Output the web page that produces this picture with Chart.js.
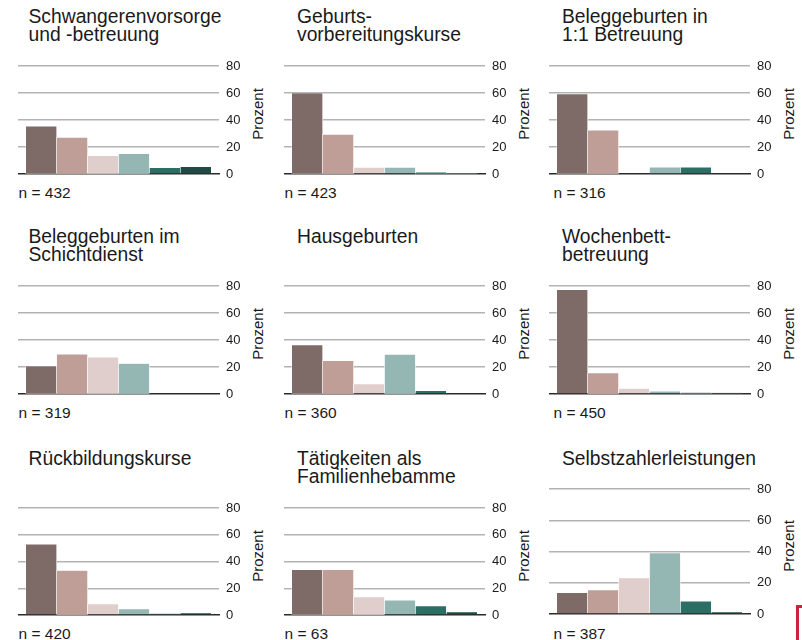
<!DOCTYPE html>
<html>
<head>
<meta charset="utf-8">
<script src="https://cdn.jsdelivr.net/npm/chart.js@4/dist/chart.umd.min.js"></script>
<style>
  body { margin: 0; background: #fff; }
  #wrap { position: relative; width: 802px; height: 640px; overflow: hidden; font-family: "Liberation Sans", Arial, sans-serif; color: #1a1a1a; }
  .title { position: absolute; font-size: 19.3px; line-height: 18px; white-space: nowrap; }
  .nlab { position: absolute; font-size: 15.5px; line-height: 15px; white-space: nowrap; }
  .ylab { position: absolute; font-size: 15px; white-space: nowrap; transform: translate(-50%, -50%) rotate(-90deg); }
  canvas { position: absolute; }
  #mark { position: absolute; left: 796px; top: 605px; width: 20px; height: 50px; border-left: 3px solid #d0203a; border-top: 3px solid #d0203a; }
</style>
</head>
<body>
<div id="wrap"><div id="mark"></div></div>
<script>
// panel titles (line breaks as in the original)
const titles = [
  ['Schwangerenvorsorge', 'und -betreuung'],
  ['Geburts-', 'vorbereitungskurse'],
  ['Beleggeburten in', '1:1 Betreuung'],
  ['Beleggeburten im', 'Schichtdienst'],
  ['Hausgeburten'],
  ['Wochenbett-', 'betreuung'],
  ['Rückbildungskurse'],
  ['Tätigkeiten als', 'Familienhebamme'],
  ['Selbstzahlerleistungen']
];
const nValues = [432, 423, 316, 319, 360, 450, 420, 63, 387];
const levels = [1, 2, 3, 4, 5, 6];

// Prozent per panel, one value per level
const schwangerenvorsorge = [35.4, 27.1, 13.6, 15.1, 4.7, 5.4];
const geburtsvorbereitung = [60.0, 29.3, 4.9, 4.9, 1.2, 0.5];
const belegEinsZuEins = [59.2, 32.4, 0, 5.0, 5.0, 0];
const belegSchicht = [20.7, 29.5, 27.3, 22.6, 0, 0];
const hausgeburten = [36.4, 24.6, 7.4, 29.3, 2.5, 0];
const wochenbett = [77.3, 15.5, 4.0, 2.0, 1.0, 0.7];
const rueckbildung = [53.0, 33.3, 8.2, 4.5, 1.0, 1.5];
const familienhebamme = [33.8, 33.8, 13.4, 11.0, 6.7, 2.2];
const selbstzahler = [13.6, 15.3, 23.0, 39.0, 8.1, 1.3];

const yTicks = [0, 20, 40, 60, 80];

const series = [schwangerenvorsorge, geburtsvorbereitung, belegEinsZuEins,
  belegSchicht, hausgeburten, wochenbett, rueckbildung, familienhebamme, selbstzahler];
const colors = ['#7e6b68', '#bf9e98', '#dfcecb', '#95b7b4', '#2c6e64', '#1f4b44'];

// layout
const colLeft = [18, 283.5, 549];
const titleLeft = [28.5, 297, 562];
const nLeft = [18.5, 284.5, 553.5];
const titleTop = [7.7, 228, 450.4];
const top80 = [65.7, 285.7, 507.7];
const bottom0 = [173.3, 394, 615];
const plotW = 201;
const axisW = 40;
const pad = 10;

const wrap = document.getElementById('wrap');

series.forEach((vals, i) => {
  const c = i % 3, r = Math.floor(i / 3);
  const yTop = i === 8 ? 489.3 : top80[r];
  const yBot = i === 8 ? 614.7 : bottom0[r];
  const plotH = Math.round(yBot - yTop);

  const t = document.createElement('div');
  t.className = 'title';
  t.style.left = titleLeft[c] + 'px';
  t.style.top = titleTop[r] + 'px';
  t.innerHTML = titles[i].join('<br>');
  wrap.appendChild(t);

  const n = document.createElement('div');
  n.className = 'nlab';
  n.style.left = nLeft[c] + 'px';
  n.style.top = (yBot + 11.3) + 'px';
  n.textContent = 'n = ' + nValues[i];
  wrap.appendChild(n);

  const yl = document.createElement('div');
  yl.className = 'ylab';
  yl.style.left = (colLeft[c] + 239) + 'px';
  yl.style.top = (yBot - 0.55 * (yBot - yTop)) + 'px';
  yl.textContent = 'Prozent';
  wrap.appendChild(yl);

  const cv = document.createElement('canvas');
  cv.width = plotW + axisW;
  cv.height = plotH + 2 * pad;
  cv.style.left = colLeft[c] + 'px';
  cv.style.top = (yTop - pad) + 'px';
  wrap.appendChild(cv);

  new Chart(cv, {
    type: 'bar',
    data: {
      datasets: [{
        data: levels.map((x, k) => ({ x: x, y: vals[k] })),
        backgroundColor: colors,
        borderColor: '#ffffff',
        borderWidth: 0.6,
        borderSkipped: 'start',
        barPercentage: 1,
        categoryPercentage: 1
      }]
    },
    options: {
      responsive: false,
      animation: false,
      layout: { autoPadding: false, padding: { top: pad, bottom: pad, left: 0, right: 0 } },
      plugins: { legend: { display: false }, tooltip: { enabled: false } },
      scales: {
        x: {
          type: 'linear',
          offset: false,
          min: 0.25,
          max: 6.75,
          z: 1,
          ticks: { display: false },
          grid: { display: false, drawTicks: false, offset: false },
          border: { display: true, color: '#2a2a2a', width: 1.6 }
        },
        y: {
          position: 'right',
          min: 0,
          max: 80,
          afterBuildTicks: (s) => { s.ticks = yTicks.map(v => ({ value: v })); },
          afterFit: (s) => { s.width = axisW; },
          ticks: {
            padding: 0,
            color: '#1a1a1a',
            font: { family: 'Liberation Sans', size: 13 }
          },
          grid: {
            drawTicks: true,
            tickLength: 7,
            tickColor: 'rgba(0,0,0,0)',
            lineWidth: 1.4,
            color: (ctx) => ctx.tick && ctx.tick.value === 0 ? 'rgba(0,0,0,0)' : '#b3b3b3'
          },
          border: { display: false }
        }
      }
    }
  });
});
</script>
</body>
</html>
